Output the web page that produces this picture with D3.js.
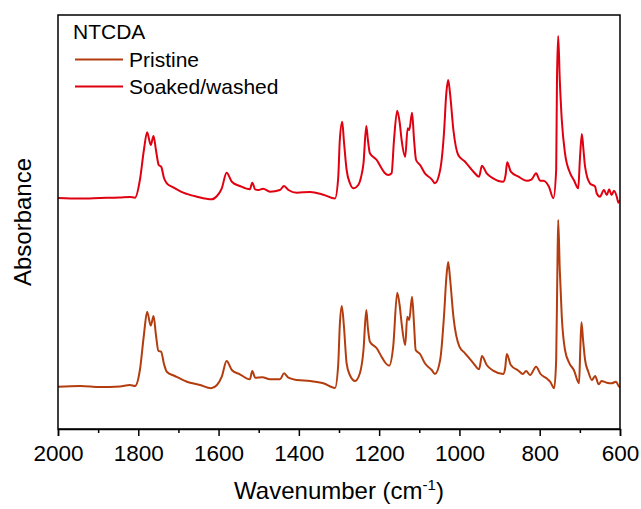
<!DOCTYPE html>
<html>
<head>
<meta charset="utf-8">
<script src="https://cdn.jsdelivr.net/npm/d3@7"></script>
<style>
  html, body { margin: 0; padding: 0; background: #fff; }
  text { font-family: Arial, "Liberation Sans", sans-serif; fill: #000; }
</style>
</head>
<body>
<svg id="chart" width="641" height="509"></svg>
<script>
// Wavenumber (cm-1) sample positions
const wavenumbersWashed = [2000,1945,1895,1846,1821,1808,1796,1786,1778,1769,1762,1756,1749,1743,1736,1729,1713,1688,1654,1617,1604,1592,1580,1567,1547,1522,1516,1509,1501,1489,1472,1447,1437,1426,1405,1372,1339,1310,1302,1298,1292,1288,1281,1273,1264,1252,1245,1239,1232,1228,1223,1206,1194,1186,1177,1169,1163,1155,1149,1144,1135,1129,1125,1118,1113,1108,1098,1086,1069,1061,1048,1038,1033,1028,1023,1015,1003,986,965,951,944,932,916,891,885,881,872,853,832,820,809,799,791,777,766,759,757,754,750,745,737,724,715,704,700,695,691,687,675,662,658,650,640,633,627,621,615,608,604,600];
// Soaked/washed absorbance (arbitrary units)
const absorbanceWashed = [231,230.5,231,231.5,232,231.3,249,279,296.7,284,293,279,264,262.3,251,245.7,241.7,236.3,232.3,229.7,233,240.7,256.3,247.3,243,239.7,246.3,239.7,239,240.3,237.3,239,243,239,236.3,237,234.3,230.5,251,289,307.3,289,259,246,240.7,244,252,265.7,303,289,275.7,269,260.7,256,254,255.7,289,318.3,307,289,272.3,300.7,299,316.3,289,269,264,255.7,249.7,245.7,259,299,334,349,334,299,274,267.3,257.3,252.3,263.3,255.7,250.7,247.3,254,266.7,257.3,252.3,248.3,249.7,255.7,248.3,248.3,242.3,230.7,259,349,393,349,309,275.7,255.7,249,240.7,269,295,279,262.3,245.7,242.3,235.7,232.3,239,234,239.7,234,238.3,232.3,226.3,229];

const wavenumbersPristine = [2000,1945,1895,1846,1821,1808,1796,1786,1778,1769,1762,1756,1750,1743,1736,1729,1709,1679,1646,1619,1604,1592,1580,1567,1547,1522,1516,1509,1491,1472,1447,1437,1426,1405,1372,1339,1310,1302,1298,1293,1288,1281,1273,1260,1248,1239,1232,1228,1223,1206,1194,1186,1175,1165,1155,1149,1144,1135,1130,1125,1118,1113,1109,1098,1086,1069,1061,1048,1038,1033,1028,1023,1015,1000,986,965,951,944,932,916,891,886,882,872,853,842,834,824,809,798,783,774,764,759,756,754,750,745,737,726,715,702,699,696,692,687,679,670,662,653,646,633,621,610,602,600];
// Pristine absorbance (arbitrary units)
const absorbancePristine = [42.3,43,42,42.5,44,43,59,94,117.3,103.3,113,94,78.3,77.3,65,57.3,53,47.3,44,40.7,44,52.3,68,59,54.7,49.7,58,51.3,51.7,49.7,49.7,55.7,51.3,49,48,45.7,41,64,104,123,104,65.7,54,48,55.7,79,119,101,87.3,80.7,72.3,67,63.3,82.3,136.3,124,105.7,84,112.3,109,132.3,104,79,75,65.7,59,55,69,115.7,149,167,149,112.3,82.3,75.7,65.7,59.7,73,64,58.3,55,61,75,64,58.3,55,58,54,62.3,55,50.7,47.3,40.7,69,159,209,159,112.3,79,65.7,59,45.7,79,106.7,89,69,57.3,49,53,44.7,48,46.3,45.7,47.3,42.3,43];

const seriesNames = ["Pristine", "Soaked/washed"];
const seriesColors = ["#b33d0e", "#e00010"];
const legendTitle = "NTCDA";
const xTicks = [2000, 1800, 1600, 1400, 1200, 1000, 800, 600];
const xMinorTicks = [1900, 1700, 1500, 1300, 1100, 900, 700];

const margin = {left: 58, right: 21, top: 15, bottom: 80};
const W = 641, H = 509;
const svg = d3.select("#chart");

const x = d3.scaleLinear().domain([2000, 600]).range([margin.left, W - margin.right]);
const y = d3.scaleLinear().domain([0, 414]).range([H - margin.bottom, margin.top]);

const line = d3.line()
  .x(d => x(d[0]))
  .y(d => y(d[1]))
  .curve(d3.curveMonotoneX);

svg.append("clipPath").attr("id", "clip")
  .append("rect")
  .attr("x", margin.left).attr("y", margin.top)
  .attr("width", W - margin.right - margin.left)
  .attr("height", H - margin.bottom - margin.top);

const plotG = svg.append("g").attr("clip-path", "url(#clip)");

const pristineData = wavenumbersPristine.map((w, i) => [w, absorbancePristine[i]]);
const washedData = wavenumbersWashed.map((w, i) => [w, absorbanceWashed[i]]);

plotG.append("path").datum(pristineData)
  .attr("fill", "none").attr("stroke", seriesColors[0])
  .attr("stroke-width", 2).attr("stroke-linejoin", "round")
  .attr("d", line);
plotG.append("path").datum(washedData)
  .attr("fill", "none").attr("stroke", seriesColors[1])
  .attr("stroke-width", 2).attr("stroke-linejoin", "round")
  .attr("d", line);

// Frame
svg.append("rect")
  .attr("x", margin.left).attr("y", margin.top)
  .attr("width", W - margin.right - margin.left)
  .attr("height", H - margin.bottom - margin.top)
  .attr("fill", "none").attr("stroke", "#000").attr("stroke-width", 1.5);

// Bottom axis
const xAxis = d3.axisBottom(x).tickValues(xTicks).tickSize(7).tickPadding(9)
  .tickFormat(d3.format("d"));
const axG = svg.append("g").attr("transform", `translate(0,${H - margin.bottom})`).call(xAxis);
axG.select(".domain").attr("stroke-width", 1.5);
axG.selectAll(".tick line").attr("stroke-width", 1.5);
axG.selectAll(".tick text").attr("font-size", 22.5).attr("font-family", "Arial, 'Liberation Sans', sans-serif");

const minorAxis = d3.axisBottom(x).tickValues(xMinorTicks).tickSize(4).tickFormat("");
const minG = svg.append("g").attr("transform", `translate(0,${H - margin.bottom})`).call(minorAxis);
minG.select(".domain").remove();
minG.selectAll(".tick line").attr("stroke-width", 1.5);

// Axis titles
const xt = svg.append("text")
  .attr("x", (margin.left + W - margin.right) / 2 + 0)
  .attr("y", 499)
  .attr("text-anchor", "middle")
  .attr("font-size", 24);
xt.append("tspan").text("Wavenumber (cm");
xt.append("tspan").attr("font-size", 15).attr("dy", -9).text("-1");
xt.append("tspan").attr("dy", 9).text(")");

svg.append("text")
  .attr("transform", `translate(31,${(margin.top + H - margin.bottom) / 2}) rotate(-90)`)
  .attr("text-anchor", "middle")
  .attr("font-size", 24)
  .text("Absorbance");

// Legend
const lg = svg.append("g");
lg.append("text").attr("x", 73).attr("y", 39).attr("font-size", 21).text(legendTitle);
seriesNames.forEach((name, i) => {
  const yy = 59.5 + i * 27;
  lg.append("line").attr("x1", 75).attr("x2", 123).attr("y1", yy).attr("y2", yy)
    .attr("stroke", seriesColors[i]).attr("stroke-width", 2);
  lg.append("text").attr("x", 129).attr("y", yy + 7).attr("font-size", 21).text(name);
});
</script>
</body>
</html>
